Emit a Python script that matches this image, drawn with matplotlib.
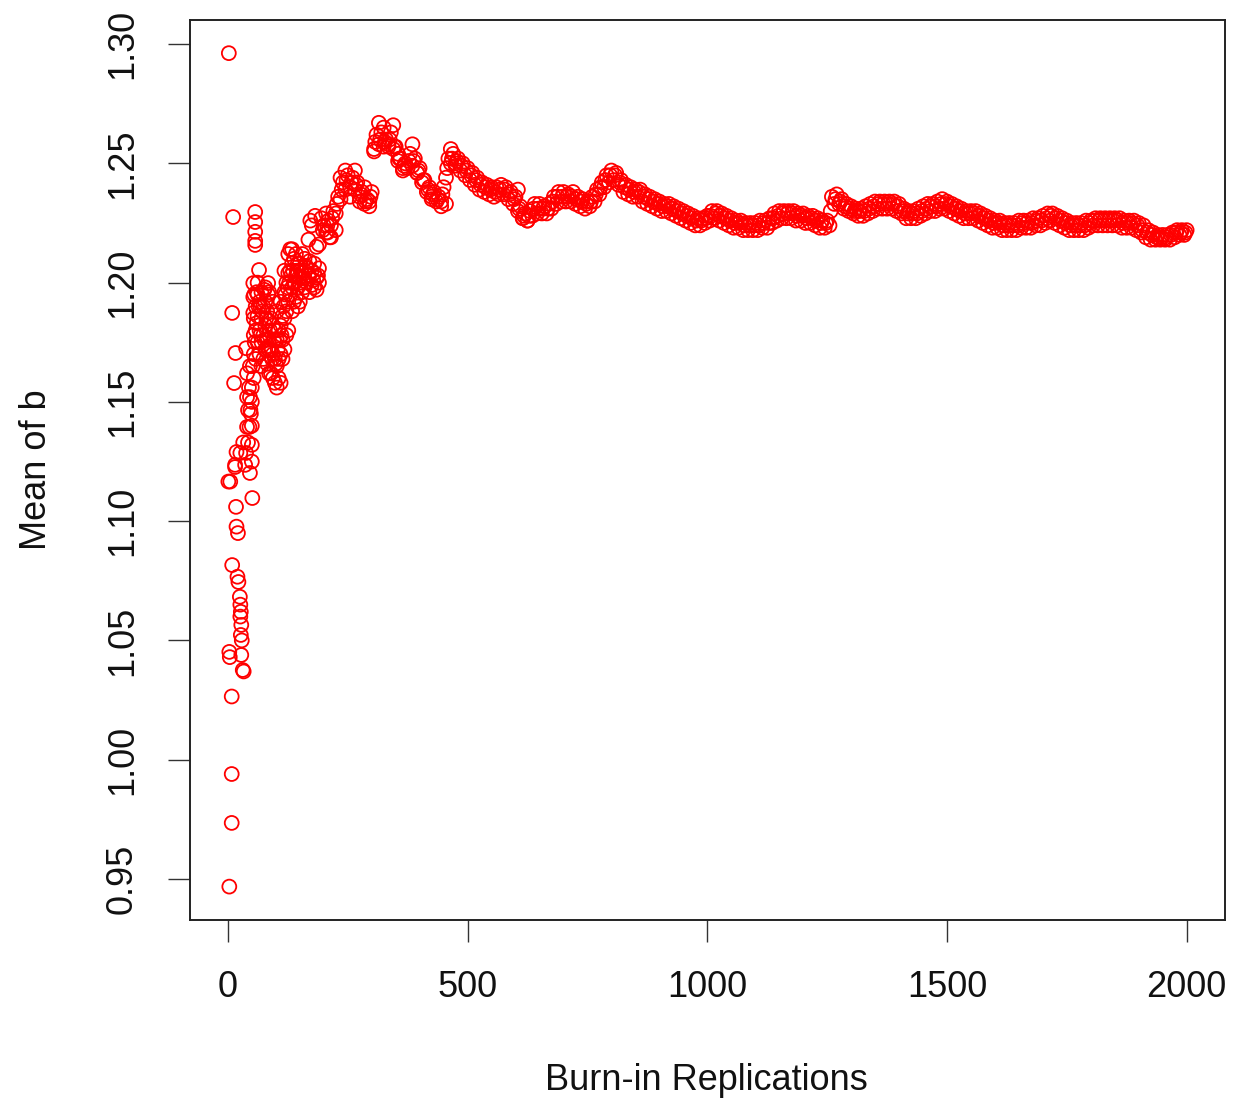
import numpy as np
import matplotlib
matplotlib.use("Agg")
import matplotlib.pyplot as plt

# ---------------- data ----------------
# early, individually visible points (burn-in x, mean of b)
early_x = [2, 11, 9, 13, 16, 1, 5, 15, 18, 17, 18, 21, 9, 20, 22,
           25, 26, 27, 26, 28, 27, 29, 3, 4, 28, 31, 33, 8, 8, 8, 3,
           51, 46, 15, 36, 26, 38, 32, 42, 40, 45, 42, 47, 40, 46, 44, 50,
           40, 46, 38, 57, 57, 57, 57, 57, 65, 53, 84, 53, 84, 53]
early_y = [1.2962, 1.2275, 1.1873, 1.1579, 1.1705, 1.1166, 1.1166, 1.1227,
           1.1290, 1.1060, 1.0977, 1.0950, 1.0816, 1.0767, 1.0745,
           1.0683, 1.0650, 1.0620, 1.0600, 1.0565, 1.0523, 1.0500, 1.0452,
           1.0430, 1.0439, 1.0376, 1.0370, 1.0265, 0.9940, 0.9735, 0.9468,
           1.1097, 1.1202, 1.1236, 1.1236, 1.1286, 1.1286, 1.1330, 1.1330,
           1.1395, 1.1395, 1.1466, 1.1466, 1.1520, 1.1520, 1.1560, 1.1560,
           1.1620, 1.1650, 1.1725, 1.2296, 1.2254, 1.2213, 1.2175, 1.2158,
           1.2053, 1.1998, 1.1998, 1.1940, 1.1950, 1.1873]

# dense early cluster (x roughly 50-200)
cluster_x = [50, 50, 50, 50, 54, 54, 54, 54, 58, 58, 58, 62, 62, 62, 62,
             66, 66, 66, 70, 70, 70, 70, 74, 74, 74, 78, 78, 78, 78,
             82, 82, 82, 86, 86, 86, 86, 90, 90, 90, 94, 94, 94, 94,
             98, 98, 98, 102, 102, 102, 102, 106, 106, 106, 110, 110, 110, 110,
             114, 114, 114, 118, 118, 118, 118, 122, 122, 122, 126, 126, 126, 126,
             130, 130, 130, 134, 134, 134, 134, 138, 138, 138, 142, 142, 142,
             146, 146, 146, 150, 150, 150, 155, 155, 155, 160, 160, 160,
             165, 165, 170, 170, 170, 175, 175, 180, 180, 180, 185, 185, 190, 190,
             168, 175, 182, 190, 198, 205, 212, 172, 185, 195, 208,
             60, 64, 68, 72, 76, 80, 84, 88, 92, 96, 100, 104, 108, 112, 116,
             120, 124, 128, 132, 136, 140, 144, 148, 152, 158, 163, 168, 178,
             188, 56, 52, 48, 55, 60, 68, 76]
cluster_y = [1.150, 1.140, 1.132, 1.125, 1.160, 1.170, 1.178, 1.185,
             1.190, 1.180, 1.168, 1.175, 1.186, 1.195, 1.200,
             1.192, 1.180, 1.170, 1.165, 1.175, 1.185, 1.196,
             1.190, 1.178, 1.168, 1.172, 1.182, 1.192, 1.198,
             1.188, 1.176, 1.166, 1.162, 1.172, 1.184, 1.196,
             1.185, 1.172, 1.162, 1.160, 1.170, 1.182, 1.192,
             1.180, 1.168, 1.158, 1.156, 1.165, 1.176, 1.188,
             1.180, 1.168, 1.160, 1.158, 1.170, 1.182, 1.192,
             1.186, 1.176, 1.168, 1.172, 1.185, 1.196, 1.205,
             1.200, 1.188, 1.178, 1.180, 1.192, 1.204, 1.212,
             1.214, 1.205, 1.195, 1.188, 1.198, 1.208, 1.214,
             1.210, 1.200, 1.192, 1.194, 1.203, 1.212,
             1.208, 1.198, 1.190, 1.192, 1.200, 1.208, 1.212, 1.204, 1.196,
             1.198, 1.205, 1.210, 1.206, 1.200, 1.196, 1.203, 1.209,
             1.205, 1.199, 1.198, 1.204, 1.208, 1.202, 1.197, 1.200, 1.206,
             1.218, 1.224, 1.228, 1.216, 1.222, 1.229, 1.219, 1.226, 1.215,
             1.227, 1.221,
             1.183, 1.190, 1.178, 1.188, 1.176, 1.185, 1.172, 1.180, 1.168,
             1.176, 1.166, 1.172, 1.176, 1.178, 1.190, 1.195, 1.198, 1.200,
             1.203, 1.205, 1.200, 1.205, 1.202, 1.205, 1.202, 1.207, 1.203,
             1.201, 1.203, 1.175, 1.165, 1.145, 1.195, 1.196, 1.190, 1.197]

band_step = 10

# main band, upper side: one value every 10 replications from 200 to 2000
band_start = 200
band_y = [
    1.224, 1.226, 1.230, 1.236, 1.242, 1.245, 1.244, 1.242, 1.238, 1.235,  # 200-290
    1.238, 1.262, 1.263, 1.260, 1.263, 1.257, 1.252, 1.250, 1.254, 1.252,  # 300-390
    1.248, 1.243, 1.240, 1.238, 1.236, 1.240, 1.252, 1.254, 1.252, 1.250,  # 400-490
    1.248, 1.246, 1.244, 1.242, 1.241, 1.240, 1.240, 1.241, 1.240, 1.238,  # 500-590
    1.236, 1.232, 1.229, 1.230, 1.233, 1.233, 1.232, 1.233, 1.236, 1.238,  # 600-690
    1.238, 1.237, 1.238, 1.236, 1.235, 1.234, 1.236, 1.239, 1.242, 1.245,  # 700-790
    1.247, 1.246, 1.243, 1.241, 1.240, 1.239, 1.239, 1.237, 1.236, 1.235,  # 800-890
    1.234, 1.233, 1.233, 1.232, 1.231, 1.230, 1.229, 1.228, 1.227, 1.227,  # 900-990
    1.228, 1.230, 1.230, 1.229, 1.228, 1.227, 1.226, 1.226, 1.225, 1.225,  # 1000-1090
    1.225, 1.226, 1.226, 1.227, 1.229, 1.230, 1.230, 1.230, 1.230, 1.229,  # 1100-1190
    1.229, 1.228, 1.228, 1.227, 1.226, 1.226, 1.236, 1.237, 1.235, 1.233,  # 1200-1290
    1.232, 1.231, 1.231, 1.232, 1.233, 1.234, 1.234, 1.234, 1.234, 1.234,  # 1300-1390
    1.233, 1.231, 1.230, 1.230, 1.231, 1.232, 1.233, 1.233, 1.234, 1.235,  # 1400-1490
    1.234, 1.233, 1.232, 1.231, 1.230, 1.230, 1.230, 1.229, 1.228, 1.227,  # 1500-1590
    1.226, 1.226, 1.225, 1.225, 1.225, 1.226, 1.226, 1.226, 1.227, 1.227,  # 1600-1690
    1.228, 1.229, 1.229, 1.228, 1.227, 1.226, 1.225, 1.225, 1.225, 1.226,  # 1700-1790
    1.226, 1.227, 1.227, 1.227, 1.227, 1.227, 1.227, 1.226, 1.226, 1.226,  # 1800-1890
    1.225, 1.224, 1.222, 1.221, 1.220, 1.220, 1.220, 1.221, 1.222, 1.222,  # 1900-1990
    1.222,                                                                 # 2000
]

# main band, lower side: one value every 10 replications from 205 to 1995
band2_start = 205
band2_y = [
    1.221, 1.224, 1.229, 1.235, 1.239, 1.240, 1.239, 1.236, 1.233, 1.234,  # 205-295
    1.256, 1.258, 1.257, 1.257, 1.256, 1.251, 1.247, 1.248, 1.249, 1.246,  # 305-395
    1.242, 1.238, 1.236, 1.234, 1.234, 1.244, 1.250, 1.249, 1.247, 1.245,  # 405-495
    1.243, 1.241, 1.239, 1.238, 1.237, 1.236, 1.237, 1.237, 1.235, 1.233,  # 505-595
    1.230, 1.227, 1.226, 1.228, 1.229, 1.229, 1.229, 1.231, 1.233, 1.234,  # 605-695
    1.234, 1.234, 1.233, 1.232, 1.231, 1.232, 1.234, 1.237, 1.240, 1.242,  # 705-795
    1.243, 1.241, 1.238, 1.237, 1.236, 1.236, 1.234, 1.233, 1.232, 1.231,  # 805-895
    1.230, 1.230, 1.229, 1.228, 1.227, 1.226, 1.225, 1.224, 1.224, 1.225,  # 905-995
    1.226, 1.227, 1.226, 1.225, 1.224, 1.223, 1.223, 1.222, 1.222, 1.222,  # 1005-1095
    1.222, 1.223, 1.223, 1.225, 1.226, 1.227, 1.227, 1.227, 1.226, 1.226,  # 1105-1195
    1.225, 1.225, 1.224, 1.223, 1.223, 1.224, 1.233, 1.233, 1.231, 1.230,  # 1205-1295
    1.229, 1.228, 1.228, 1.229, 1.230, 1.231, 1.231, 1.231, 1.231, 1.230,  # 1305-1395
    1.229, 1.227, 1.227, 1.227, 1.228, 1.229, 1.230, 1.230, 1.231, 1.231,  # 1405-1495
    1.230, 1.229, 1.228, 1.227, 1.227, 1.227, 1.226, 1.225, 1.224, 1.223,  # 1505-1595
    1.223, 1.222, 1.222, 1.222, 1.222, 1.223, 1.223, 1.223, 1.224, 1.224,  # 1605-1695
    1.225, 1.226, 1.225, 1.224, 1.223, 1.222, 1.222, 1.222, 1.222, 1.223,  # 1705-1795
    1.224, 1.224, 1.224, 1.224, 1.224, 1.224, 1.223, 1.223, 1.223, 1.222,  # 1805-1895
    1.221, 1.219, 1.218, 1.218, 1.218, 1.218, 1.218, 1.219, 1.220, 1.220,  # 1905-1995
]

# main band, centre: one value every 10 replications from 207.5 to 1997.5
band3_start = 207.5
band3_y = [
    1.224, 1.227, 1.233, 1.239, 1.243, 1.242, 1.241, 1.237, 1.234, 1.236,
    1.259, 1.260, 1.259, 1.260, 1.257, 1.252, 1.249, 1.251, 1.251, 1.247,
    1.243, 1.239, 1.237, 1.235, 1.237, 1.248, 1.252, 1.251, 1.249, 1.247,
    1.245, 1.243, 1.241, 1.240, 1.239, 1.238, 1.239, 1.239, 1.237, 1.235,
    1.231, 1.228, 1.228, 1.231, 1.231, 1.231, 1.231, 1.234, 1.236, 1.236,
    1.236, 1.236, 1.235, 1.234, 1.233, 1.234, 1.237, 1.240, 1.243, 1.245,
    1.245, 1.242, 1.240, 1.239, 1.238, 1.238, 1.236, 1.235, 1.234, 1.233,
    1.232, 1.232, 1.231, 1.230, 1.229, 1.228, 1.227, 1.226, 1.226, 1.227,
    1.228, 1.229, 1.228, 1.227, 1.226, 1.225, 1.225, 1.224, 1.224, 1.224,
    1.224, 1.225, 1.225, 1.227, 1.228, 1.229, 1.229, 1.229, 1.228, 1.228,
    1.227, 1.227, 1.226, 1.225, 1.225, 1.230, 1.235, 1.234, 1.232, 1.231,
    1.230, 1.230, 1.230, 1.231, 1.232, 1.233, 1.233, 1.233, 1.233, 1.232,
    1.230, 1.229, 1.229, 1.229, 1.230, 1.231, 1.232, 1.232, 1.233, 1.233,
    1.232, 1.231, 1.230, 1.229, 1.229, 1.229, 1.228, 1.227, 1.226, 1.225,
    1.225, 1.224, 1.224, 1.224, 1.224, 1.225, 1.225, 1.225, 1.226, 1.226,
    1.227, 1.228, 1.227, 1.226, 1.225, 1.224, 1.224, 1.224, 1.224, 1.225,
    1.226, 1.226, 1.226, 1.226, 1.226, 1.226, 1.225, 1.225, 1.225, 1.224,
    1.222, 1.221, 1.220, 1.219, 1.219, 1.219, 1.220, 1.221, 1.221, 1.221,
]

# extra points on the band's upper/lower edges where it is thick
extra_x = [215, 225, 235, 245, 255, 265, 275, 285, 295, 305, 315, 325, 335,
           345, 355, 365, 385, 395, 425, 445, 455, 465, 475, 605, 615, 625]
extra_y = [1.219, 1.222, 1.244, 1.247, 1.236, 1.247, 1.234, 1.240, 1.232,
           1.255, 1.267, 1.265, 1.258, 1.266, 1.254, 1.248, 1.258, 1.246,
           1.235, 1.232, 1.233, 1.256, 1.250, 1.239, 1.227, 1.226]

x_ticks = [0, 500, 1000, 1500, 2000]
y_ticks = [0.95, 1.00, 1.05, 1.10, 1.15, 1.20, 1.25, 1.30]
y_tick_labels = ["0.95", "1.00", "1.05", "1.10", "1.15", "1.20", "1.25", "1.30"]

# ---------------- drawing ----------------
plt.rcParams['font.family'] = ['Liberation Sans', 'DejaVu Sans']

fig = plt.figure(figsize=(12.35, 11.05), dpi=100)
ax = fig.add_axes([190 / 1235, 1 - 920 / 1105, 1035 / 1235, 900 / 1105])

band_x = band_start + band_step * np.arange(len(band_y))
band2_x = band2_start + band_step * np.arange(len(band2_y))
band3_x = band3_start + band_step * np.arange(len(band3_y))
all_x = np.concatenate([early_x, cluster_x, band_x, band2_x, band3_x, extra_x])
all_y = np.concatenate([early_y, cluster_y, band_y, band2_y, band3_y, extra_y])

ax.scatter(all_x, all_y, s=100, facecolors='none', edgecolors='#ff0000',
           linewidths=1.3, zorder=3)

ax.set_xlim(-79, 2080)
ax.set_ylim(0.9328, 1.3101)

ax.set_xticks(x_ticks)
ax.set_xticklabels([str(t) for t in x_ticks])
ax.set_yticks(y_ticks)
ax.set_yticklabels(y_tick_labels, rotation=90, va='center')

ax.tick_params(axis='both', length=16, width=1.0, color='#333333',
               labelsize=26, pad=20, labelcolor='#111111')
for sp in ax.spines.values():
    sp.set_linewidth(1.4)
    sp.set_color('#222222')

fig.text(706 / 1235, 1 - 1080 / 1105, 'Burn-in Replications', ha='center',
         va='center', fontsize=26, color='#111111')
fig.text(36 / 1235, 1 - 470 / 1105, 'Mean of b', ha='center', va='center',
         rotation=90, fontsize=26, color='#111111')

fig.savefig('out.png', dpi=100)
